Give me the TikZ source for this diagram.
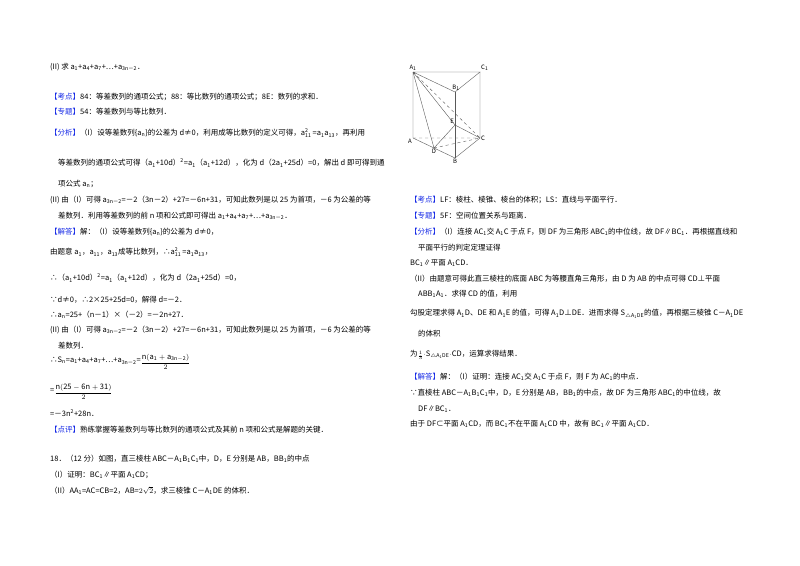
\documentclass[tikz,border=0pt]{standalone}
\usepackage{fontspec}
\setmainfont{Noto Sans CJK SC}
\newcommand\lo[1]{\textsubscript{#1}}
\newcommand\up[1]{\textsuperscript{#1}}
\newcommand\asq{a\rlap{\textsuperscript{2}}\textsubscript{11}\,}
\definecolor{kblue}{RGB}{20,40,230}
\newcommand\ktag[1]{\textcolor{kblue}{【#1】}}
\begin{document}
\begin{tikzpicture}[x=1pt,y=-1pt,
  t/.style={anchor=west,inner sep=0,font=\fontsize{7.5}{9}\selectfont},
  lb/.style={inner sep=1pt,font=\fontsize{6}{7}\selectfont\itshape},
  e/.style={line width=0.4pt,gray!70!black},
  dl/.style={e,dashed}]
\useasboundingbox (0,0) rectangle (800,565);
% left column
\node[t] (l1) at (50,67) {(II) 求 a\lo1+a\lo4+a\lo7+…+a\lo{3n－2}．};
\node[t] (l2) at (50,97) {\ktag{考点}84：等差数列的通项公式；88：等比数列的通项公式；8E：数列的求和．};
\node[t] (l3) at (50,112) {\ktag{专题}54：等差数列与等比数列．};
\node[t] (l4) at (50,133) {\ktag{分析}（I）设等差数列\{a\lo n\}的公差为 d≠0，利用成等比数列的定义可得，\asq=a\lo1a\lo{13}，再利用};
\node[t] (l5) at (58,163) {等差数列的通项公式可得（a\lo1+10d）\up2=a\lo1（a\lo1+12d），化为 d（2a\lo1+25d）=0，解出 d 即可得到通};
\node[t] (l6) at (58,184) {项公式 a\lo n；};
\node[t] (l7) at (50,200) {(II) 由（I）可得 a\lo{3n－2}=－2（3n－2）+27=－6n+31，可知此数列是以 25 为首项，－6 为公差的等};
\node[t] (l8) at (58,216) {差数列．利用等差数列的前 n 项和公式即可得出 a\lo1+a\lo4+a\lo7+…+a\lo{3n－2}．};
\node[t] (l9) at (50,232) {\ktag{解答}解：（I）设等差数列\{a\lo n\}的公差为 d≠0，};
\node[t] (l10) at (50,252) {由题意 a\lo1，a\lo{11}，a\lo{13}成等比数列，∴\asq=a\lo1a\lo{13}，};
\node[t] (l11) at (50,278) {∴（a\lo1+10d）\up2=a\lo1（a\lo1+12d），化为 d（2a\lo1+25d）=0，};
\node[t] (l12) at (50,300) {∵d≠0，∴2×25+25d=0，解得 d=－2．};
\node[t] (l13) at (50,315) {∴a\lo n=25+（n－1）×（－2）=－2n+27．};
\node[t] (l14) at (50,330) {(II) 由（I）可得 a\lo{3n－2}=－2（3n－2）+27=－6n+31，可知此数列是以 25 为首项，－6 为公差的等};
\node[t] (l15) at (58,346) {差数列．};
\node[t] (l16) at (50,362) {∴S\lo n=a\lo1+a\lo4+a\lo7+…+a\lo{3n－2}=\raisebox{-0.5ex}{$\displaystyle\frac{\mathrm{n(a_1+a_{3n-2})}}{2}$}};
\node[t] (l17) at (50,392) {=\raisebox{-0.5ex}{$\displaystyle\frac{\mathrm{n(25-6n+31)}}{2}$}};
\node[t] (l18) at (50,413) {=－3n\up2+28n．};
\node[t] (l19) at (50,430) {\ktag{点评}熟练掌握等差数列与等比数列的通项公式及其前 n 项和公式是解题的关键．};
\node[t] (l20) at (50,459) {18．（12 分）如图，直三棱柱 ABC－A\lo1B\lo1C\lo1中，D，E 分别是 AB，BB\lo1的中点};
\node[t] (l21) at (50,475) {（I）证明：BC\lo1∥平面 A\lo1CD；};
\node[t] (l22) at (50,491) {（II）AA\lo1=AC=CB=2，AB=$2\sqrt{2}$，求三棱锥 C－A\lo1DE 的体积．};
% right column
\node[t] (r1) at (410,200) {\ktag{考点}LF：棱柱、棱锥、棱台的体积；LS：直线与平面平行．};
\node[t] (r2) at (410,216) {\ktag{专题}5F：空间位置关系与距离．};
\node[t] (r3) at (410,232) {\ktag{分析}（I）连接 AC\lo1交 A\lo1C 于点 F，则 DF 为三角形 ABC\lo1的中位线，故 DF∥BC\lo1．再根据直线和};
\node[t] (r4) at (418,248) {平面平行的判定定理证得};
\node[t] (r5) at (410,263) {BC\lo1∥平面 A\lo1CD．};
\node[t] (r6) at (410,279) {（II）由题意可得此直三棱柱的底面 ABC 为等腰直角三角形，由 D 为 AB 的中点可得 CD⊥平面};
\node[t] (r7) at (418,294) {ABB\lo1A\lo1．求得 CD 的值，利用};
\node[t] (r8) at (410,314) {勾股定理求得 A\lo1D、DE 和 A\lo1E 的值，可得 A\lo1D⊥DE．进而求得 S$_{\triangle \mathrm{A_1DE}}$的值，再根据三棱锥 C－A\lo1DE};
\node[t] (r9) at (418,334) {的体积};
\node[t] (r10) at (410,355) {为\raisebox{-0.3ex}{$\frac{1}{3}$}$\cdot$S$_{\triangle \mathrm{A_1DE}}$$\cdot$CD，运算求得结果．};
\node[t] (r11) at (410,377) {\ktag{解答}解：（I）证明：连接 AC\lo1交 A\lo1C 于点 F，则 F 为 AC\lo1的中点．};
\node[t] (r12) at (410,393) {∵直棱柱 ABC－A\lo1B\lo1C\lo1中，D，E 分别是 AB，BB\lo1的中点，故 DF 为三角形 ABC\lo1的中位线，故};
\node[t] (r13) at (418,409) {DF∥BC\lo1．};
\node[t] (r14) at (410,424) {由于 DF⊂平面 A\lo1CD，而 BC\lo1不在平面 A\lo1CD 中，故有 BC\lo1∥平面 A\lo1CD．};
% figure
\coordinate (A1) at (413,72);
\coordinate (C1) at (480,72);
\coordinate (B1) at (455,92);
\coordinate (A) at (413,138);
\coordinate (C) at (480,138);
\coordinate (B) at (455,158);
\coordinate (D) at (434,148);
\coordinate (E) at (455,125);
\draw[e] (A1)--(C1)--(B1)--(A1);
\draw[e] (A1)--(A)--(D)--(B)--(C)--(C1);
\draw[e] (B1)--(B);
\draw[e] (A1)--(D)--(E)--(A1);
\draw[e] (E)--(C);
\draw[dl] (A)--(C) (A1)--(C) (D)--(C);
\node[lb,above] (nA1) at (A1) {A\lo1};
\node[lb,above right] (nC1) at (C1) {C\lo1};
\node[lb,above,xshift=1pt] (nB1) at (B1) {B\lo1};
\node[lb,below left] (nA) at (A) {A};
\node[lb,right] (nC) at (C) {C};
\node[lb,below] (nB) at (B) {B};
\node[lb,below] (nD) at (D) {D};
\node[lb,above left] (nE) at (E) {E};
\end{tikzpicture}
\end{document}
